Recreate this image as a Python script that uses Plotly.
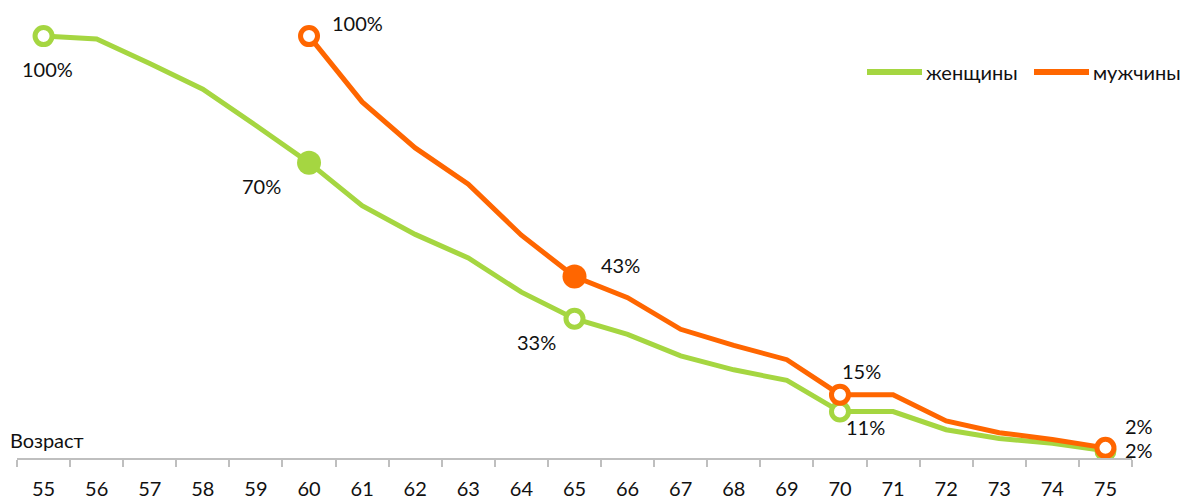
import plotly.graph_objects as go

# Age categories (x axis)
ages = [str(a) for a in range(55, 76)]

# Share still working, % (women from 55, men from 60)
women = [100, 99.3, 93.5, 87.4, 78.8, 70, 59.8, 53, 47.4, 39.3, 33,
         29.3, 24.2, 20.9, 18.4, 11, 11, 6.7, 4.6, 3.5, 1.7]
men_start = 5
men_ages = ages[men_start:]
men = [100, 84.4, 73.5, 64.9, 52.8, 43, 38, 30.5, 26.7, 23.3, 15,
       15, 8.8, 6, 4.4, 2.4]

# Highlighted points: (index into series, filled?, label dx, label dy)
women_marks = [(0, False, 4, -33), (5, True, -48, -23), (10, False, -38, -23),
               (15, False, 26, -15), (20, False, 34, 1)]
men_marks = [(0, False, 48, 13), (5, True, 46, 12), (10, False, 22, 24),
             (15, False, 34, 22)]

GREEN = "#A5D641"
ORANGE = "#FF6600"
TEXT = "#111111"
FONT = "Lato"

fig = go.Figure()

def add_series(xs, ys, offset, color, name, marks):
    fig.add_trace(go.Scatter(x=xs, y=ys, mode="lines", name=name,
                             line=dict(color=color, width=5),
                             showlegend=False, hoverinfo="skip"))
    hollow = [m for m in marks if not m[1]]
    solid = [m for m in marks if m[1]]
    fig.add_trace(go.Scatter(
        x=[xs[m[0]] for m in hollow], y=[ys[m[0]] for m in hollow],
        mode="markers", showlegend=False, hoverinfo="skip",
        marker=dict(symbol="circle", size=17, color="white",
                    line=dict(color=color, width=5))))
    fig.add_trace(go.Scatter(
        x=[xs[m[0]] for m in solid], y=[ys[m[0]] for m in solid],
        mode="markers", showlegend=False, hoverinfo="skip",
        marker=dict(symbol="circle", size=24, color=color,
                    line=dict(width=0))))
    for idx, _, dx, dy in marks:
        # category axis position given as the category index
        fig.add_annotation(x=offset + idx, y=ys[idx], xref="x", yref="y",
                           text=f"{ys[idx]:.0f}%", showarrow=False,
                           xshift=dx, yshift=dy,
                           font=dict(family=FONT, size=20, color=TEXT))

add_series(ages, women, 0, GREEN, "женщины", women_marks)
add_series(men_ages, men, men_start, ORANGE, "мужчины", men_marks)

# Legend drawn as line samples plus text
W, H = 1191, 499
L, R, T, B = 17, 59, 15, 41
PW, PH = W - L - R, H - T - B

def fx(x):
    return (x - L) / PW

def fy(y):
    return (H - B - y) / PH

legend_items = [("женщины", GREEN, 867), ("мужчины", ORANGE, 1034)]
for label, color, x0 in legend_items:
    fig.add_shape(type="line", xref="paper", yref="paper",
                  x0=fx(x0), x1=fx(x0 + 55), y0=fy(72), y1=fy(72),
                  line=dict(color=color, width=6))
    fig.add_annotation(xref="paper", yref="paper", x=fx(x0 + 57), y=fy(72),
                       xanchor="left", yanchor="middle", text=label,
                       showarrow=False,
                       font=dict(family=FONT, size=20, color=TEXT))

# Axis title on the left above the axis line
fig.add_annotation(xref="paper", yref="paper", x=fx(8), y=fy(440),
                   xanchor="left", yanchor="middle", text="Возраст",
                   showarrow=False,
                   font=dict(family=FONT, size=20, color=TEXT))

fig.update_layout(
    width=W, height=H,
    margin=dict(l=L, r=R, t=T, b=B),
    paper_bgcolor="white", plot_bgcolor="white",
    showlegend=False,
)
fig.update_xaxes(type="category", categoryorder="array", categoryarray=ages,
                 range=[-0.5, 20.5], showgrid=False, zeroline=False,
                 automargin=False,
                 showline=True, linecolor="#BFBFBF", linewidth=1.5,
                 ticks="outside", tickson="boundaries", ticklen=7,
                 tickcolor="#BFBFBF", tickwidth=1.5, ticklabelstandoff=12,
                 tickfont=dict(family=FONT, size=20, color=TEXT))
fig.update_yaxes(range=[0, 105], visible=False, automargin=False)

fig.write_html("out.html")
